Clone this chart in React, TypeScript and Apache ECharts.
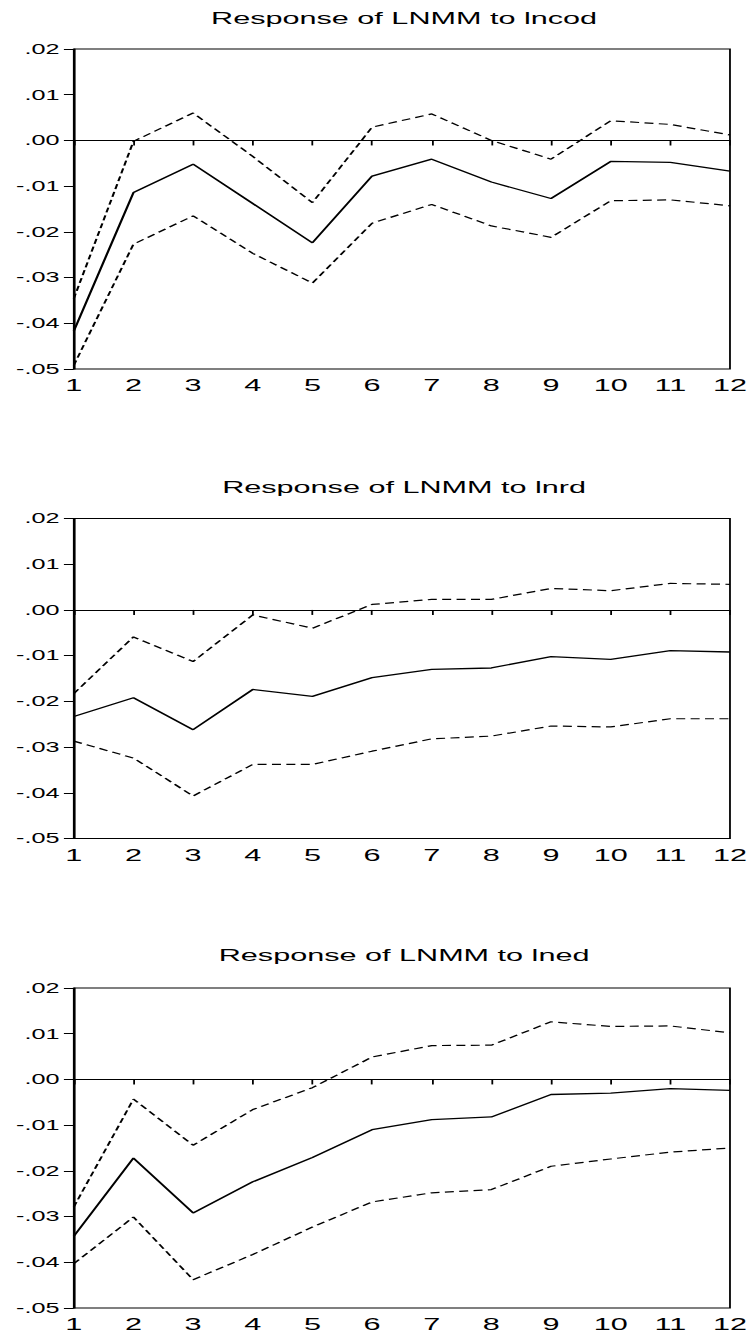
import React, { useEffect, useRef } from 'react';
import * as echarts from 'echarts';

// ---- data ----
const periods = ['1', '2', '3', '4', '5', '6', '7', '8', '9', '10', '11', '12'];

const titles = ['Response of LNMM to lncod', 'Response of LNMM to lnrd', 'Response of LNMM to lned'];

const codUpper = [-0.0346, -0.0002, 0.0060, -0.0035, -0.0136, 0.0029, 0.0058, 0.0000, -0.0041, 0.0043, 0.0035, 0.0012];
const codMid = [-0.0417, -0.0114, -0.0052, -0.0138, -0.0224, -0.0078, -0.0041, -0.0091, -0.0127, -0.0046, -0.0048, -0.0067];
const codLower = [-0.0492, -0.0227, -0.0165, -0.0247, -0.0312, -0.0181, -0.0140, -0.0187, -0.0212, -0.0132, -0.0130, -0.0143];

const rdUpper = [-0.0183, -0.0059, -0.0113, -0.0011, -0.0040, 0.0012, 0.0023, 0.0023, 0.0047, 0.0042, 0.0058, 0.0056];
const rdMid = [-0.0233, -0.0192, -0.0262, -0.0174, -0.0189, -0.0148, -0.0130, -0.0127, -0.0102, -0.0108, -0.0089, -0.0092];
const rdLower = [-0.0287, -0.0324, -0.0407, -0.0338, -0.0338, -0.0309, -0.0282, -0.0276, -0.0254, -0.0256, -0.0238, -0.0238];

const edUpper = [-0.0279, -0.0043, -0.0144, -0.0066, -0.0018, 0.0049, 0.0074, 0.0075, 0.0126, 0.0116, 0.0117, 0.0102];
const edMid = [-0.0343, -0.0172, -0.0292, -0.0224, -0.0171, -0.0110, -0.0088, -0.0082, -0.0033, -0.0030, -0.0020, -0.0024];
const edLower = [-0.0403, -0.0301, -0.0438, -0.0383, -0.0323, -0.0268, -0.0248, -0.0241, -0.0190, -0.0174, -0.0159, -0.0150];

const yMin = -0.05;
const yMax = 0.02;
const yStep = 0.01;

// ---- layout ----
const STRETCH = 1.8;
const PAGE_W = 753;
const PAGE_H = 1338;
const FONT = '"Liberation Sans", Arial, Helvetica, sans-serif';
const gridTops = [49, 518.5, 988];
const titleYs = [18, 487, 955];
const GRID_LEFT = 41;
const GRID_W = 367;
const GRID_H = 320;

const panelData = [
  [codUpper, codMid, codLower],
  [rdUpper, rdMid, rdLower],
  [edUpper, edMid, edLower],
];

function fmtY(v: number): string {
  if (Math.abs(v) < 1e-9) return '.00';
  return v.toFixed(2).replace('0.', '.');
}

export default function App() {
  const ref = useRef<HTMLDivElement>(null);

  useEffect(() => {
    if (!ref.current) return;
    const chart = echarts.init(ref.current, null, { renderer: 'svg' });

    const grid = gridTops.map((top) => ({
      left: GRID_LEFT,
      top,
      width: GRID_W,
      height: GRID_H,
      show: true,
      borderColor: '#000',
      borderWidth: 1,
      backgroundColor: 'transparent',
    }));

    const xAxis = gridTops.map((_, i) => ({
      type: 'category',
      gridIndex: i,
      data: periods,
      boundaryGap: false,
      axisLine: { show: true, lineStyle: { color: '#000', width: 1 } },
      axisTick: { show: true, inside: false, length: 5, lineStyle: { color: '#000', width: 1 } },
      axisLabel: { interval: 0, color: '#000', fontSize: 17, fontFamily: FONT, margin: 8 },
      splitLine: { show: false },
    }));

    const yAxis = gridTops.map((_, i) => ({
      type: 'value',
      gridIndex: i,
      min: yMin,
      max: yMax,
      interval: yStep,
      axisLine: { show: true, lineStyle: { color: '#000', width: 1 } },
      axisTick: { show: true, inside: false, length: 5.5, lineStyle: { color: '#000', width: 1 } },
      axisLabel: { color: '#000', fontSize: 14, fontFamily: FONT, margin: 8, formatter: fmtY },
      splitLine: { show: false },
    }));

    const series: any[] = [];
    panelData.forEach((arrs, i) => {
      const [up, mid, low] = arrs;
      series.push({
        type: 'line',
        xAxisIndex: i,
        yAxisIndex: i,
        data: up,
        symbol: 'none',
        lineStyle: { color: '#000', width: 1.2, type: [5, 3] },
        silent: true,
      });
      series.push({
        type: 'line',
        xAxisIndex: i,
        yAxisIndex: i,
        data: mid,
        symbol: 'none',
        lineStyle: { color: '#000', width: 1.3, type: 'solid' },
        silent: true,
        markLine: {
          silent: true,
          symbol: ['none', 'none'],
          label: { show: false },
          lineStyle: { color: '#000', width: 1, type: 'solid' },
          data: [{ yAxis: 0 }],
        },
      });
      series.push({
        type: 'line',
        xAxisIndex: i,
        yAxisIndex: i,
        data: low,
        symbol: 'none',
        lineStyle: { color: '#000', width: 1.2, type: [5, 3] },
        silent: true,
      });
    });

    const graphic = titles.map((t, i) => ({
      type: 'text',
      x: GRID_LEFT + GRID_W / 2,
      y: titleYs[i],
      style: {
        text: t,
        fill: '#000',
        fontSize: 17,
        fontFamily: FONT,
        align: 'center',
        verticalAlign: 'middle',
      },
    }));

    chart.setOption({
      animation: false,
      backgroundColor: '#fff',
      grid,
      xAxis,
      yAxis,
      series,
      graphic,
    });

    return () => chart.dispose();
  }, []);

  return (
    <div
      style={{
        position: 'absolute',
        left: 0,
        top: 0,
        width: PAGE_W,
        height: PAGE_H,
        overflow: 'hidden',
        background: '#fff',
      }}
    >
      <div
        ref={ref}
        style={{
          width: PAGE_W / STRETCH,
          height: PAGE_H,
          transform: `scaleX(${STRETCH})`,
          transformOrigin: '0 0',
        }}
      />
    </div>
  );
}
